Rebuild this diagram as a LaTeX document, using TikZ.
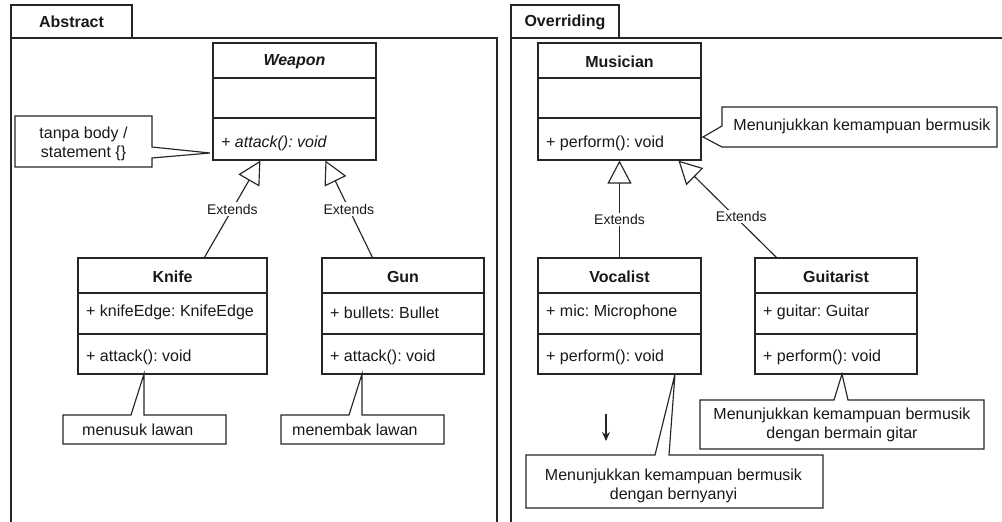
\documentclass[tikz,border=0pt]{standalone}
\usepackage{fontspec}
\setmainfont{Liberation Sans}
\usetikzlibrary{arrows.meta,calc}
\frenchspacing
\begin{document}
\begin{tikzpicture}[x=1pt,y=-1pt,
  ln/.style={draw=black!85, line width=1.15pt},
  cls/.style={ln, fill=white, rectangle, inner sep=0pt},
  txt/.style={font=\fontsize{16}{19}\selectfont, inner sep=0pt, text=black!90},
  ttl/.style={txt, font=\fontsize{16}{19}\selectfont\bfseries},
  ext/.style={ln, -{Triangle[open,length=23pt,width=24pt]}},
  extlbl/.style={font=\fontsize{14}{16}\selectfont, fill=white, inner sep=1.5pt, text=black!90},
  note/.style={ln, fill=white, line join=miter},
  divider/.style={ln}
]
\clip (0,0) rectangle (1002,522);
\fill[white] (0,0) rectangle (1002,522);

% ---------- frames ----------
\draw[ln] (11,530) -- (11,38) -- (497,38) -- (497,530);
\draw[ln] (11,5) rectangle (132,38);
\node[ttl] (tabA) at (71.5,22) {Abstract};
\draw[ln] (511,530) -- (511,38) -- (1010,38);
\draw[ln] (511,5) rectangle (619,38);
\node[ttl] (tabO) at (565,22) {Overriding};

% ---------- Weapon ----------
\node[cls, minimum width=163pt, minimum height=117pt] (weapon) at (294.5,101.5) {};
\draw[divider] (213,78) -- (376,78);
\draw[divider] (213,118) -- (376,118);
\node[ttl, font=\fontsize{16}{19}\selectfont\bfseries\itshape] (weaponT) at (294.5,62) {Weapon};
\node[txt, anchor=west, font=\fontsize{16}{19}\selectfont\itshape] (weaponM) at (221,143) {+ attack(): void};

% ---------- Knife ----------
\node[cls, minimum width=189pt, minimum height=116pt] (knife) at (172.5,316) {};
\draw[divider] (78,293) -- (267,293);
\draw[divider] (78,334) -- (267,334);
\node[ttl] (knifeT) at (172.5,276.5) {Knife};
\node[txt, anchor=west] (knifeA) at (86,312.5) {+ knifeEdge: KnifeEdge};
\node[txt, anchor=west] (knifeM) at (86,357) {+ attack(): void};

% ---------- Gun ----------
\node[cls, minimum width=162pt, minimum height=116pt] (gun) at (403,316) {};
\draw[divider] (322,293) -- (484,293);
\draw[divider] (322,334) -- (484,334);
\node[ttl] (gunT) at (403,276.5) {Gun};
\node[txt, anchor=west] (gunA) at (330,312.5) {+ bullets: Bullet};
\node[txt, anchor=west] (gunM) at (330,357) {+ attack(): void};

% ---------- Musician ----------
\node[cls, minimum width=163pt, minimum height=117pt] (musician) at (619.5,101.5) {};
\draw[divider] (538,78) -- (701,78);
\draw[divider] (538,118) -- (701,118);
\node[ttl] (musicianT) at (619.5,62) {Musician};
\node[txt, anchor=west] (musicianM) at (546,143) {+ perform(): void};

% ---------- Vocalist ----------
\node[cls, minimum width=163pt, minimum height=116pt] (vocalist) at (619.5,316) {};
\draw[divider] (538,293) -- (701,293);
\draw[divider] (538,334) -- (701,334);
\node[ttl] (vocalistT) at (619.5,276.5) {Vocalist};
\node[txt, anchor=west] (vocalistA) at (546,312.5) {+ mic: Microphone};
\node[txt, anchor=west] (vocalistM) at (546,357) {+ perform(): void};

% ---------- Guitarist ----------
\node[cls, minimum width=162pt, minimum height=116pt] (guitarist) at (836,316) {};
\draw[divider] (755,293) -- (917,293);
\draw[divider] (755,334) -- (917,334);
\node[ttl] (guitaristT) at (836,276.5) {Guitarist};
\node[txt, anchor=west] (guitaristA) at (763,312.5) {+ guitar: Guitar};
\node[txt, anchor=west] (guitaristM) at (763,357) {+ perform(): void};

% ---------- inheritance ----------
\draw[ext] ([xshift=127pt]knife.north west) -- node[extlbl] (ext1) {Extends} ([xshift=48pt]weapon.south west);
\draw[ext] ([xshift=51pt]gun.north west) -- node[extlbl] (ext2) {Extends} ([xshift=113pt]weapon.south west);
\draw[ext] (vocalist.north) -- node[extlbl, pos=0.39] (ext3) {Extends} (musician.south);
\draw[ext] ([xshift=22pt]guitarist.north west) -- node[extlbl, pos=0.42, xshift=6pt] (ext4) {Extends} ([xshift=141pt]musician.south west);

% ---------- callouts ----------
\draw[note] (15,116) -- (152,116) -- (152,147) -- (210,153) -- (152,158) -- (152,167) -- (15,167) -- cycle;
\node[txt, align=center] (noteTanpa) at (83.5,143.5) {tanpa body /\\statement \{\}};

\draw[note] (63,415) -- (131,415) -- (144,374) -- (144,415) -- (226,415) -- (226,444) -- (63,444) -- cycle;
\node[txt, anchor=west] (noteKnife) at (82,430) {menusuk lawan};

\draw[note] (281,415) -- (349,415) -- (362,374) -- (362,415) -- (444,415) -- (444,444) -- (281,444) -- cycle;
\node[txt, anchor=west] (noteGun) at (292,430) {menembak lawan};

\draw[note] (722,107) -- (997,107) -- (997,147) -- (722,147) -- (703,137) -- (722,126) -- cycle;
\node[txt] (noteMusician) at (862,126.5) {Menunjukkan kemampuan bermusik};

\draw[note] (700,400) -- (834,400) -- (842,374) -- (848,400) -- (984,400) -- (984,449) -- (700,449) -- cycle;
\node[txt, align=center] (noteGuitarist) at (842,424.5) {Menunjukkan kemampuan bermusik\\dengan bermain gitar};

\draw[note] (526,455) -- (655,455) -- (675,374) -- (669,455) -- (823,455) -- (823,508) -- (526,508) -- cycle;
\node[txt, align=center] (noteVocalist) at (673.5,485.5) {Menunjukkan kemampuan bermusik\\dengan bernyanyi};

% ---------- small arrow ----------
\coordinate (arrS) at (606,414);
\coordinate (arrE) at (606,441);
\draw[ln, -{Stealth[length=9pt,width=8pt]}] (arrS) -- (arrE);
\end{tikzpicture}
\end{document}
